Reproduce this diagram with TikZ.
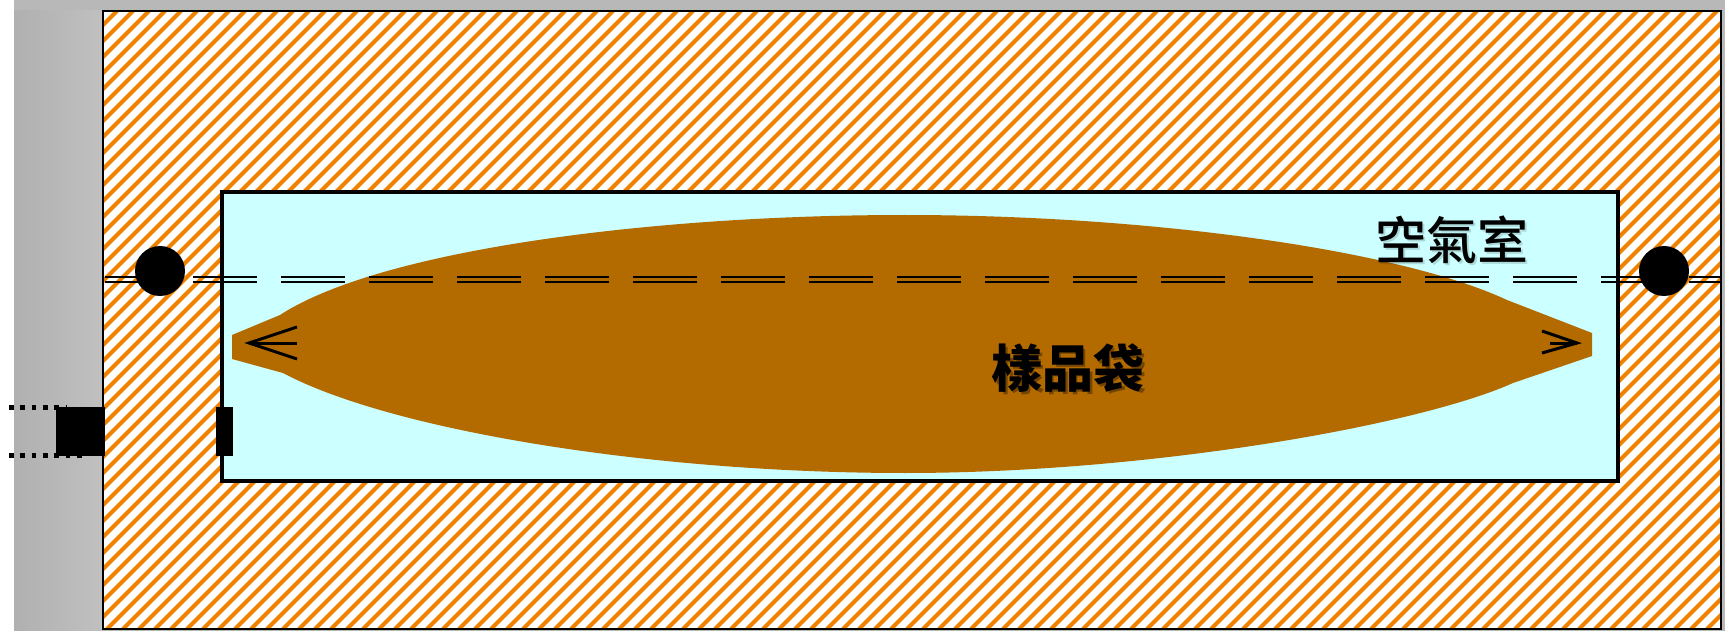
\documentclass[tikz,border=0pt]{standalone}
\usepackage{fontspec}
\newfontfamily\cjk{Noto Sans CJK TC Medium}
\definecolor{wallgray}{RGB}{184,184,184}
\definecolor{hatchorange}{RGB}{240,130,0}
\definecolor{aircyan}{RGB}{204,255,255}
\definecolor{bagbrown}{RGB}{179,107,0}
\tikzset{
  hatchline/.style={hatchorange, line width=4.2pt},
  seamline/.style={line width=2pt, dash pattern=on 64pt off 24pt, dash phase=86pt},
  knob/.style={circle, fill=black, inner sep=0pt, minimum size=50pt},
  label/.style={inner sep=0pt, font=\cjk\fontsize{51}{51}\selectfont},
  plug/.style={fill=black}
}
\begin{document}
\begin{tikzpicture}[x=1pt,y=-1pt]
\useasboundingbox (0,0) rectangle (1725,631);
% wall behind the housing
\fill[wallgray] (14,0) rectangle (1725,631);
\shade[left color={rgb,255:red,176;green,176;blue,176}, right color={rgb,255:red,192;green,192;blue,192}] (14,11) rectangle (103,631);
% hatched housing
\fill[white] (103,11) rectangle (1721,629);
\begin{scope}
  \clip (103,11) rectangle (1721,629);
  \foreach \i in {-620,-604,...,1640}
    \draw[hatchline] (103+\i,629) -- ++(618,-618);
\end{scope}
\draw[line width=2.5pt] (103,11) rectangle (1721,629);
% air chamber
\fill[aircyan] (222,192) rectangle (1618,481);
% sample bag
\fill[bagbrown] (232,335) -- (280,315)
  .. controls (380,250) and (650,215) .. (905,215)
  .. controls (1150,215) and (1400,250) .. (1507,300)
  -- (1592,333) -- (1592,356) -- (1513,383)
  .. controls (1420,425) and (1150,473) .. (905,473)
  .. controls (650,473) and (390,430) .. (283,373)
  -- (232,359) -- cycle;
% double seam line across the housing
\coordinate (seamL1) at (103,277);
\coordinate (seamR1) at (1721,277);
\coordinate (seamL2) at (103,282);
\coordinate (seamR2) at (1721,282);
\draw[seamline] (seamL1) -- (seamR1);
\draw[seamline] (seamL2) -- (seamR2);
\draw[line width=4pt] (222,192) rectangle (1618,481);
% clamps
\node[knob] (knobL) at (160,271) {};
\node[knob] (knobR) at (1664,271) {};
% bag end marks
\draw[line width=3pt] (297,327) -- (249,343) -- (297,359);
\draw[line width=3pt] (249,343) -- (297,343);
\draw[line width=3pt] (1542,331) -- (1577,343) -- (1542,353);
\draw[line width=3pt] (1550,343) -- (1577,343);
% port
\draw[line width=5pt, dash pattern=on 4.7pt off 6.6pt] (9,407) -- (67,407);
\draw[line width=5pt, dash pattern=on 4.7pt off 6.6pt] (9,455) -- (88,455);
\fill[plug] (56,407) rectangle (105,456);
\fill[plug] (216,407) rectangle (233,456);
% labels
\node[label, text=black, opacity=0.15] (airshadow) at (1454,242) {空氣室};
\node[label] (air) at (1452,240) {空氣室};
\node[label, text=black, opacity=0.35] (bagshadow) at (1071,371) {樣品袋};
\node[label, font=\cjk\bfseries\fontsize{51}{51}\selectfont] (bag) at (1068,368) {樣品袋};
\end{tikzpicture}
\end{document}
